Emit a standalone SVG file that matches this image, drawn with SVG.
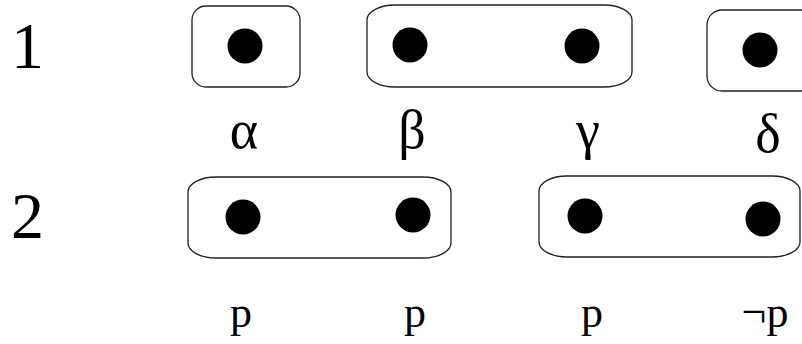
<svg xmlns="http://www.w3.org/2000/svg" width="802" height="344" viewBox="0 0 802 344">
<style>
.box{fill:none;stroke:#222;stroke-width:1.3}
.dot{fill:#000}
.num{font-family:"Liberation Serif","Times New Roman",serif;font-size:66px;fill:#000}
.lbl{font-family:"Liberation Serif","Times New Roman",serif;font-size:54px;fill:#000;text-anchor:middle}
.plbl{font-family:"Liberation Serif","Times New Roman",serif;font-size:44px;fill:#000;text-anchor:middle}
</style>
<rect width="802" height="344" fill="#fff"/>
<text class="num" x="11" y="68">1</text>
<text class="num" x="11" y="238">2</text>
<g id="row1-box1">
<rect class="box" x="192" y="6" width="108" height="81" rx="14" ry="14"/>
<circle class="dot" cx="245" cy="46" r="17.5"/>
</g>
<g id="row1-box2">
<rect class="box" x="367" y="5" width="265" height="82" rx="28" ry="15"/>
<circle class="dot" cx="410" cy="45" r="17.5"/>
<circle class="dot" cx="582" cy="46" r="17.5"/>
</g>
<g id="row1-box3">
<rect class="box" x="707" y="10" width="110" height="81" rx="15" ry="15"/>
<circle class="dot" cx="760" cy="50" r="17.5"/>
</g>
<text class="lbl" x="244" y="148">α</text>
<text class="lbl" x="412" y="148">β</text>
<text class="lbl" x="588" y="148">γ</text>
<text class="lbl" x="768" y="152">δ</text>
<g id="row2-box1">
<rect class="box" x="188" y="177" width="263" height="81" rx="28" ry="15"/>
<circle class="dot" cx="243" cy="217" r="17.5"/>
<circle class="dot" cx="413" cy="215" r="17.5"/>
</g>
<g id="row2-box2">
<rect class="box" x="539" y="176" width="261" height="81" rx="28" ry="15"/>
<circle class="dot" cx="585" cy="216" r="17.5"/>
<circle class="dot" cx="763" cy="219" r="17.5"/>
</g>
<text class="plbl" x="241" y="327">p</text>
<text class="plbl" x="415" y="327">p</text>
<text class="plbl" x="592" y="327">p</text>
<text class="plbl" x="765" y="327">¬p</text>
</svg>
